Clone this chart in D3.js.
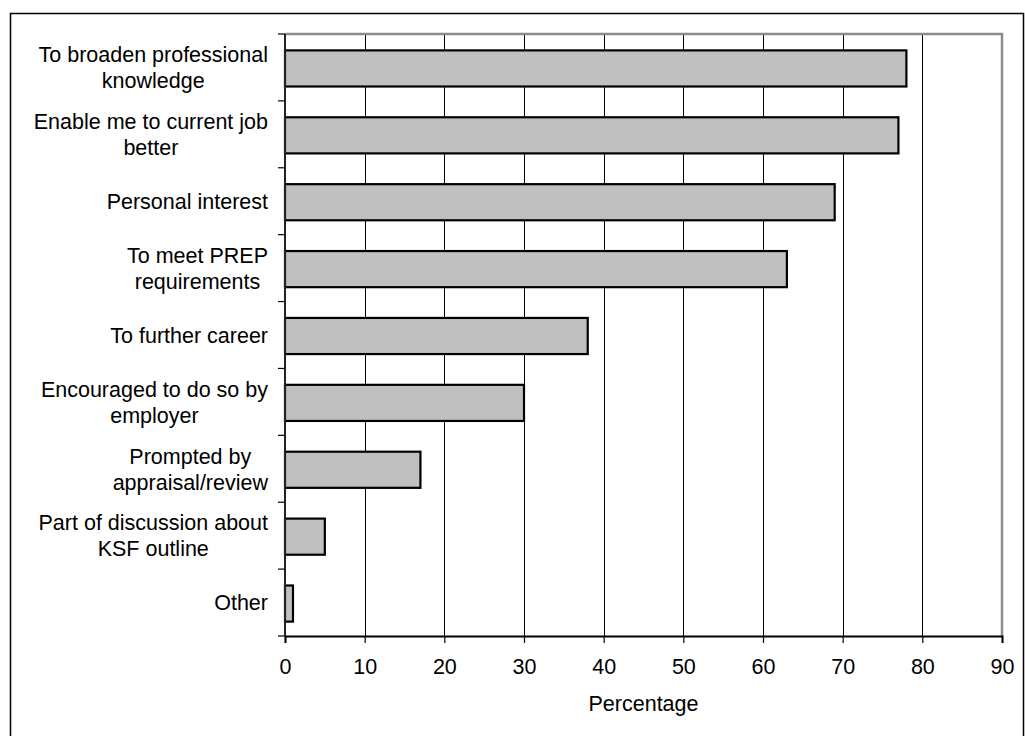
<!DOCTYPE html>
<html>
<head>
<meta charset="utf-8">
<script src="https://cdn.jsdelivr.net/npm/d3@7"></script>
<style>
  html, body { margin: 0; padding: 0; background: #fff; }
  svg { display: block; }
  text { font-family: "Liberation Sans", Arial, sans-serif; fill: #000; }
</style>
</head>
<body>
<svg id="chart" width="1025" height="736"></svg>
<script>
// Reasons for undertaking learning, percentage of respondents
const categories = [
  ["To broaden professional", "knowledge"],
  ["Enable me to current job", "better"],
  ["Personal interest"],
  ["To meet PREP", "requirements"],
  ["To further career"],
  ["Encouraged to do so by", "employer"],
  ["Prompted by", "appraisal/review"],
  ["Part of discussion about", "KSF outline"],
  ["Other"]
];
const values = [78, 77, 69, 63, 38, 30, 17, 5, 1];
const xTicks = [0, 10, 20, 30, 40, 50, 60, 70, 80, 90];
const xTitle = "Percentage";

const svg = d3.select("#chart");
const plot = { left: 285, right: 1002, top: 34, bottom: 636 };
const fontSize = 21.5;

// Outer frame
svg.append("rect")
  .attr("x", 10.5).attr("y", 13.5)
  .attr("width", 1013).attr("height", 800)
  .attr("fill", "none").attr("stroke", "#000").attr("stroke-width", 1.5);

const x = d3.scaleLinear().domain([0, 90]).range([plot.left, plot.right]);
const y = d3.scaleBand().domain(d3.range(categories.length))
  .range([plot.top, plot.bottom]).padding(0);
const barFrac = 0.54;

// Vertical gridlines
svg.append("g").selectAll("line")
  .data(xTicks.filter(t => t > 0 && t < 90))
  .join("line")
  .attr("x1", d => Math.round(x(d)) + 0.5).attr("x2", d => Math.round(x(d)) + 0.5)
  .attr("y1", plot.top).attr("y2", plot.bottom)
  .attr("stroke", "#000").attr("stroke-width", 1);

// Plot area border (top and right)
svg.append("path")
  .attr("d", `M${plot.left},${plot.top} H${plot.right} V${plot.bottom}`)
  .attr("fill", "none").attr("stroke", "#8c8c8c").attr("stroke-width", 2.5);

// Bars
svg.append("g").selectAll("rect")
  .data(values)
  .join("rect")
  .attr("x", x(0))
  .attr("y", (d, i) => y(i) + y.bandwidth() * (1 - barFrac) / 2 + 1)
  .attr("width", d => x(d) - x(0))
  .attr("height", y.bandwidth() * barFrac)
  .attr("fill", "#c0c0c0")
  .attr("stroke", "#000").attr("stroke-width", 2.2);

// X axis
const xAxis = d3.axisBottom(x).tickValues(xTicks).tickSize(7).tickPadding(16);
const gx = svg.append("g")
  .attr("transform", `translate(0,${plot.bottom})`)
  .call(xAxis);
gx.select(".domain").attr("stroke", "#000").attr("stroke-width", 2);
gx.selectAll(".tick line").attr("stroke", "#000").attr("stroke-width", 1.2);
gx.selectAll(".tick text")
  .style("font-family", "'Liberation Sans', Arial, sans-serif")
  .style("font-size", fontSize + "px").attr("fill", "#000");

// Y axis line and category boundary ticks
svg.append("line")
  .attr("x1", plot.left).attr("x2", plot.left)
  .attr("y1", plot.top).attr("y2", plot.bottom)
  .attr("stroke", "#222").attr("stroke-width", 2);
const bounds = d3.range(categories.length + 1).map(i => plot.top + i * y.step());
svg.append("g").selectAll("line")
  .data(bounds)
  .join("line")
  .attr("x1", plot.left - 7).attr("x2", plot.left)
  .attr("y1", d => d).attr("y2", d => d)
  .attr("stroke", "#000").attr("stroke-width", 1.2);

// Category labels: multi-line blocks, lines centred within the block,
// block right-aligned next to the axis
const labelRight = 268;
const lineH = 26;
const labels = svg.append("g");
categories.forEach((lines, i) => {
  const cy = y(i) + y.bandwidth() / 2;
  const g = labels.append("g");
  const texts = lines.map((ln, k) => g.append("text")
    .attr("font-size", fontSize)
    .attr("text-anchor", "middle")
    .attr("y", cy + (k - (lines.length - 1) / 2) * lineH)
    .attr("dy", "0.36em")
    .text(ln));
  const w = d3.max(texts, t => t.node().getComputedTextLength());
  texts.forEach(t => t.attr("x", labelRight - w / 2));
});

// X axis title
svg.append("text")
  .attr("x", (plot.left + plot.right) / 2)
  .attr("y", 711)
  .attr("text-anchor", "middle")
  .attr("font-size", fontSize)
  .text(xTitle);
</script>
</body>
</html>
